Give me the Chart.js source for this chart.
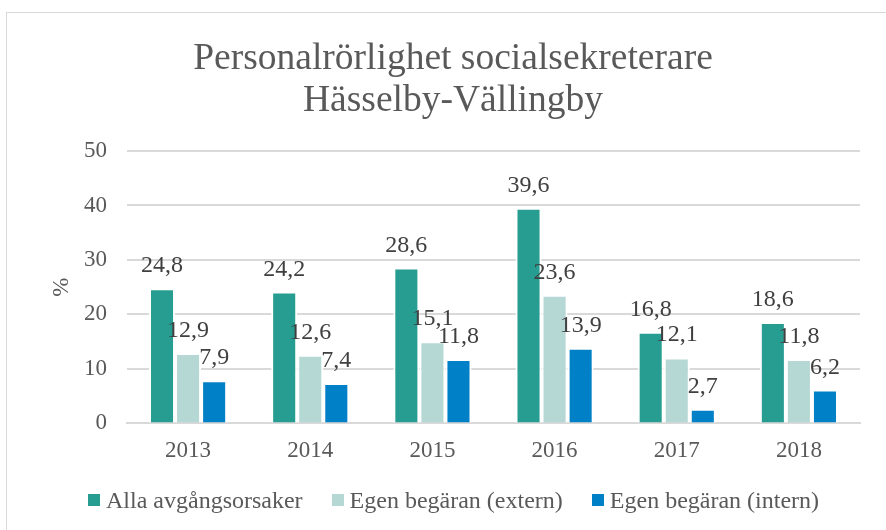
<!DOCTYPE html>
<html>
<head>
<meta charset="utf-8">
<script src="https://cdn.jsdelivr.net/npm/chart.js@4"></script>
<style>
  body { margin: 0; background: #fff; }
  #box { position: absolute; left: 6px; top: 12px; width: 900px; height: 540px; border: 1px solid #d9d9d9; }
  #wrap { position: absolute; left: 0; top: 0; width: 886px; height: 530px; }
  #legend { position: absolute; left: 88px; top: 488px; display: flex; align-items: center; gap: 29px;
            font-family: 'Liberation Serif', 'Times New Roman', serif; font-size: 24px; line-height: 24px; color: #595959; }
  #legend .item { display: flex; align-items: center; white-space: nowrap; }
  #legend .sw { width: 12px; height: 12px; margin-right: 6px; }
</style>
</head>
<body>
<div id="box"></div>
<div id="wrap"><canvas id="chart"></canvas></div>
<div id="legend"></div>
<script>
const years = ["2013", "2014", "2015", "2016", "2017", "2018"];
const seriesNames = ["Alla avgångsorsaker", "Egen begäran (extern)", "Egen begäran (intern)"];
const allaValues = [24.8, 24.2, 28.6, 39.6, 16.8, 18.6];
const externValues = [12.9, 12.6, 15.1, 23.6, 12.1, 11.8];
const internValues = [7.9, 7.4, 11.8, 13.9, 2.7, 6.2];
const colors = ["#279d91", "#b5d8d5", "#0080c6"];

const serif = "'Liberation Serif', 'Times New Roman', serif";
const grey = "#595959";

// Skriver värdet ovanför varje stapel
const valueLabels = {
  id: "valueLabels",
  afterDatasetsDraw(chart) {
    const ctx = chart.ctx;
    ctx.save();
    ctx.font = "24px " + serif;
    ctx.fillStyle = "#404040";
    ctx.textAlign = "center";
    ctx.textBaseline = "alphabetic";
    chart.data.datasets.forEach((ds, i) => {
      chart.getDatasetMeta(i).data.forEach((bar, j) => {
        const txt = ds.data[j].toFixed(1).replace(".", ",");
        ctx.fillText(txt, bar.x, bar.y - 16);
      });
    });
    ctx.restore();
  }
};

const seriesData = [allaValues, externValues, internValues];

const chart = new Chart(document.getElementById("chart"), {
  type: "bar",
  data: {
    labels: years,
    datasets: seriesNames.map((name, i) => ({
      label: name,
      data: seriesData[i],
      backgroundColor: colors[i],
      borderColor: "#ffffff",
      borderWidth: 2,
      barPercentage: 1,
      categoryPercentage: 0.64
    }))
  },
  options: {
    responsive: true,
    maintainAspectRatio: false,
    animation: false,
    layout: { padding: { left: 46, right: 26, top: 38, bottom: 59 } },
    plugins: {
      title: {
        display: true,
        text: ["Personalrörlighet socialsekreterare", "Hässelby-Vällingby"],
        font: { family: serif, size: 37.5, weight: "normal", lineHeight: 1.12 },
        color: grey,
        padding: { top: 0, bottom: 29 }
      },
      legend: { display: false },
      tooltip: { enabled: false }
    },
    scales: {
      x: {
        grid: { display: false },
        border: { color: "#d9d9d9", width: 2 },
        ticks: { color: grey, font: { family: serif, size: 23 }, padding: 6 }
      },
      y: {
        min: 0,
        max: 50,
        afterFit: (s) => { s.width = 81; },
        ticks: { stepSize: 10, color: grey, font: { family: serif, size: 23 }, padding: 20 },
        grid: { color: "#d9d9d9", lineWidth: 2, drawTicks: false },
        border: { display: false },
        title: { display: true, text: "%", color: grey, font: { family: serif, size: 23 }, padding: 2 }
      }
    }
  },
  plugins: [valueLabels]
});

// Förklaring under diagrammet
const legendEl = document.getElementById("legend");
chart.data.datasets.forEach((ds) => {
  const item = document.createElement("div");
  item.className = "item";
  const sw = document.createElement("span");
  sw.className = "sw";
  sw.style.background = ds.backgroundColor;
  const txt = document.createElement("span");
  txt.textContent = ds.label;
  item.appendChild(sw);
  item.appendChild(txt);
  legendEl.appendChild(item);
});
</script>
</body>
</html>
